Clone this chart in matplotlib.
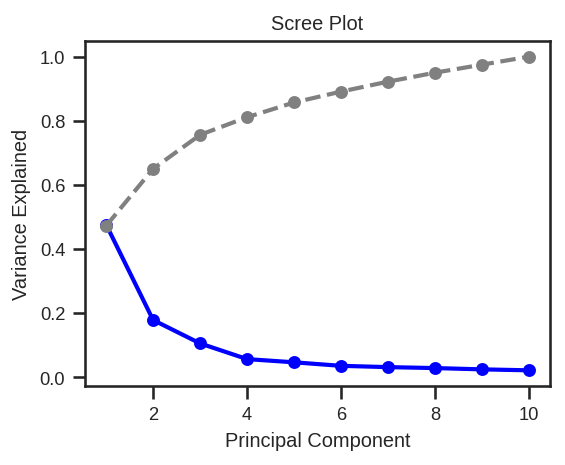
import matplotlib
matplotlib.use("Agg")
import matplotlib.pyplot as plt
import seaborn as sns

components = [1, 2, 3, 4, 5, 6, 7, 8, 9, 10]
explained = [0.476, 0.178, 0.105, 0.056, 0.046, 0.035, 0.031, 0.028, 0.024, 0.021]
cumulative = [0.472, 0.650, 0.756, 0.811, 0.857, 0.891, 0.922, 0.950, 0.975, 1.000]

sns.set_theme(style="ticks")
plt.rcParams['font.family'] = ['Liberation Sans', 'DejaVu Sans']

fig, ax = plt.subplots(figsize=(565/150, 466/150), dpi=150)
ax.plot(components, explained, 'o-', color='blue', linewidth=2, markersize=5.2)
ax.plot(components, cumulative, 'o--', color='gray', linewidth=2, markersize=5.2)
ax.set_title("Scree Plot", fontsize=9.6)
ax.set_xlabel("Principal Component", fontsize=9.6)
ax.set_ylabel("Variance Explained", fontsize=9.6)
ax.tick_params(labelsize=8.8)
fig.subplots_adjust(left=85/565, right=550/565, top=1-42/466, bottom=1-387/466)
fig.savefig("out.png", dpi=150)
